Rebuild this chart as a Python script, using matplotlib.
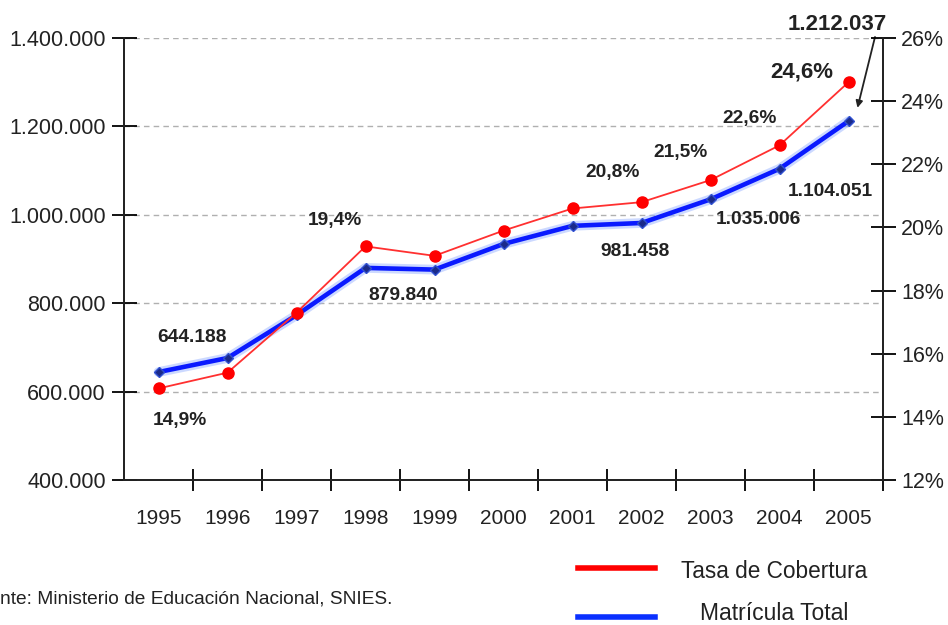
import matplotlib
matplotlib.use("Agg")
import matplotlib.pyplot as plt
import numpy as np

plt.rcParams['font.family'] = ['Liberation Sans', 'DejaVu Sans']

# =========================
# DATA
# =========================

years = ['1995', '1996', '1997', '1998', '1999', '2000',
         '2001', '2002', '2003', '2004', '2005']
matricula = [644188, 676000, 773000, 879840, 876000, 934000,
             975000, 981458, 1035006, 1104051, 1212037]
cobertura = [14.9, 15.4, 17.3, 19.4, 19.1, 19.9, 20.6, 20.8, 21.5, 22.6, 24.6]

left_ticks = [400000, 600000, 800000, 1000000, 1200000, 1400000]
left_labels = ['400.000', '600.000', '800.000', '1.000.000', '1.200.000', '1.400.000']
right_ticks = [12, 14, 16, 18, 20, 22, 24, 26]
right_labels = ['12%', '14%', '16%', '18%', '20%', '22%', '24%', '26%']

# =========================
# PLOT
# =========================

fig = plt.figure(figsize=(9.48, 6.25), dpi=100)
ax = fig.add_axes([124 / 948, 1 - 480 / 625, 759 / 948, 442 / 625])
ax2 = ax.twinx()

x = np.arange(len(years))

# blue line drawn on ax (left), red on ax2 (right)
ax.plot(x, matricula, color='#9ab4ff', lw=7, alpha=0.5, zorder=2, solid_capstyle='round')
ax.plot(x, matricula, color='#0a1aff', lw=3.3, zorder=3, marker='D', markersize=5,
        markerfacecolor='#1a2a8a', markeredgecolor='#3050d0')
ax2.plot(x, cobertura, color='#ff3030', lw=1.3, marker='o', markersize=8,
         markerfacecolor='#ff0000', markeredgecolor='#ff0000', zorder=4)

ax.set_xlim(-0.5, 10.5)
ax.set_ylim(400000, 1400000)
ax2.set_ylim(12, 26)

ax.set_yticks(left_ticks)
ax.set_yticklabels(left_labels, fontsize=15.5, color='#222222')
ax2.set_yticks(right_ticks)
ax2.set_yticklabels(right_labels, fontsize=15.5, color='#222222')

ax.set_xticks(x)
ax.set_xticklabels(years, fontsize=15, color='#222222')
ax.set_xticks(np.arange(1, len(years) + 1) - 0.5, minor=True)
ax.tick_params(axis='x', which='major', length=0, pad=21)
ax.tick_params(axis='x', which='minor', direction='inout', length=16, width=1.3)
ax.tick_params(axis='y', direction='inout', length=18, width=1.3, pad=4)
ax2.tick_params(axis='y', direction='inout', length=18, width=1.3, pad=4)

for t in left_ticks[1:]:
    ax.axhline(t, color='#b0b0b0', lw=1, ls=(0, (4, 3)), zorder=1)

for a in (ax, ax2):
    a.spines['top'].set_visible(False)
    for s in ('left', 'right', 'bottom'):
        a.spines[s].set_linewidth(1.3)
        a.spines[s].set_color('#222222')

# =========================
# LABELS
# =========================

lab = dict(fontsize=13.8, fontweight='bold', color='#222222', ha='center', va='center')

def put(px, py, s, **kw):
    d = dict(lab)
    d.update(kw)
    fig.text(px / 948, 1 - py / 625, s, **d)

put(192, 338, '644.188')
put(180, 421, '14,9%')
put(403, 295, '879.840')
put(335, 220, '19,4%')
put(635, 251, '981.458')
put(613, 173, '20,8%')
put(680, 153, '21,5%')
put(758, 220, '1.035.006')
put(750, 119, '22,6%')
put(830, 192, '1.104.051')
put(802, 72, '24,6%', fontsize=16)
put(837, 25, '1.212.037', fontsize=16)

ax.annotate('', xy=(10.13, 1212037 + 30000), xycoords='data',
            xytext=(875 / 948, 1 - 37 / 625), textcoords='figure fraction',
            arrowprops=dict(arrowstyle='-|>', color='#222222', lw=1.3,
                            mutation_scale=10, shrinkA=0, shrinkB=0))

# legend
fig.add_artist(plt.Line2D([578 / 948, 655 / 948], [1 - 568 / 625] * 2,
                          color='#ff0000', lw=4))
fig.add_artist(plt.Line2D([578 / 948, 655 / 948], [1 - 617 / 625] * 2,
                          color='#0a30ff', lw=4))
fig.text(774 / 948, 1 - 571 / 625, 'Tasa de Cobertura', fontsize=16.3,
         color='#222222', ha='center', va='center')
fig.text(774 / 948, 1 - 614 / 625, 'Matrícula Total', fontsize=16.5,
         color='#222222', ha='center', va='center')

fig.text(-33 / 948, 1 - 599 / 625, 'Fuente: Ministerio de Educación Nacional, SNIES.',
         fontsize=13.8, color='#222222', ha='left', va='center')

fig.savefig('out.png', dpi=100)
